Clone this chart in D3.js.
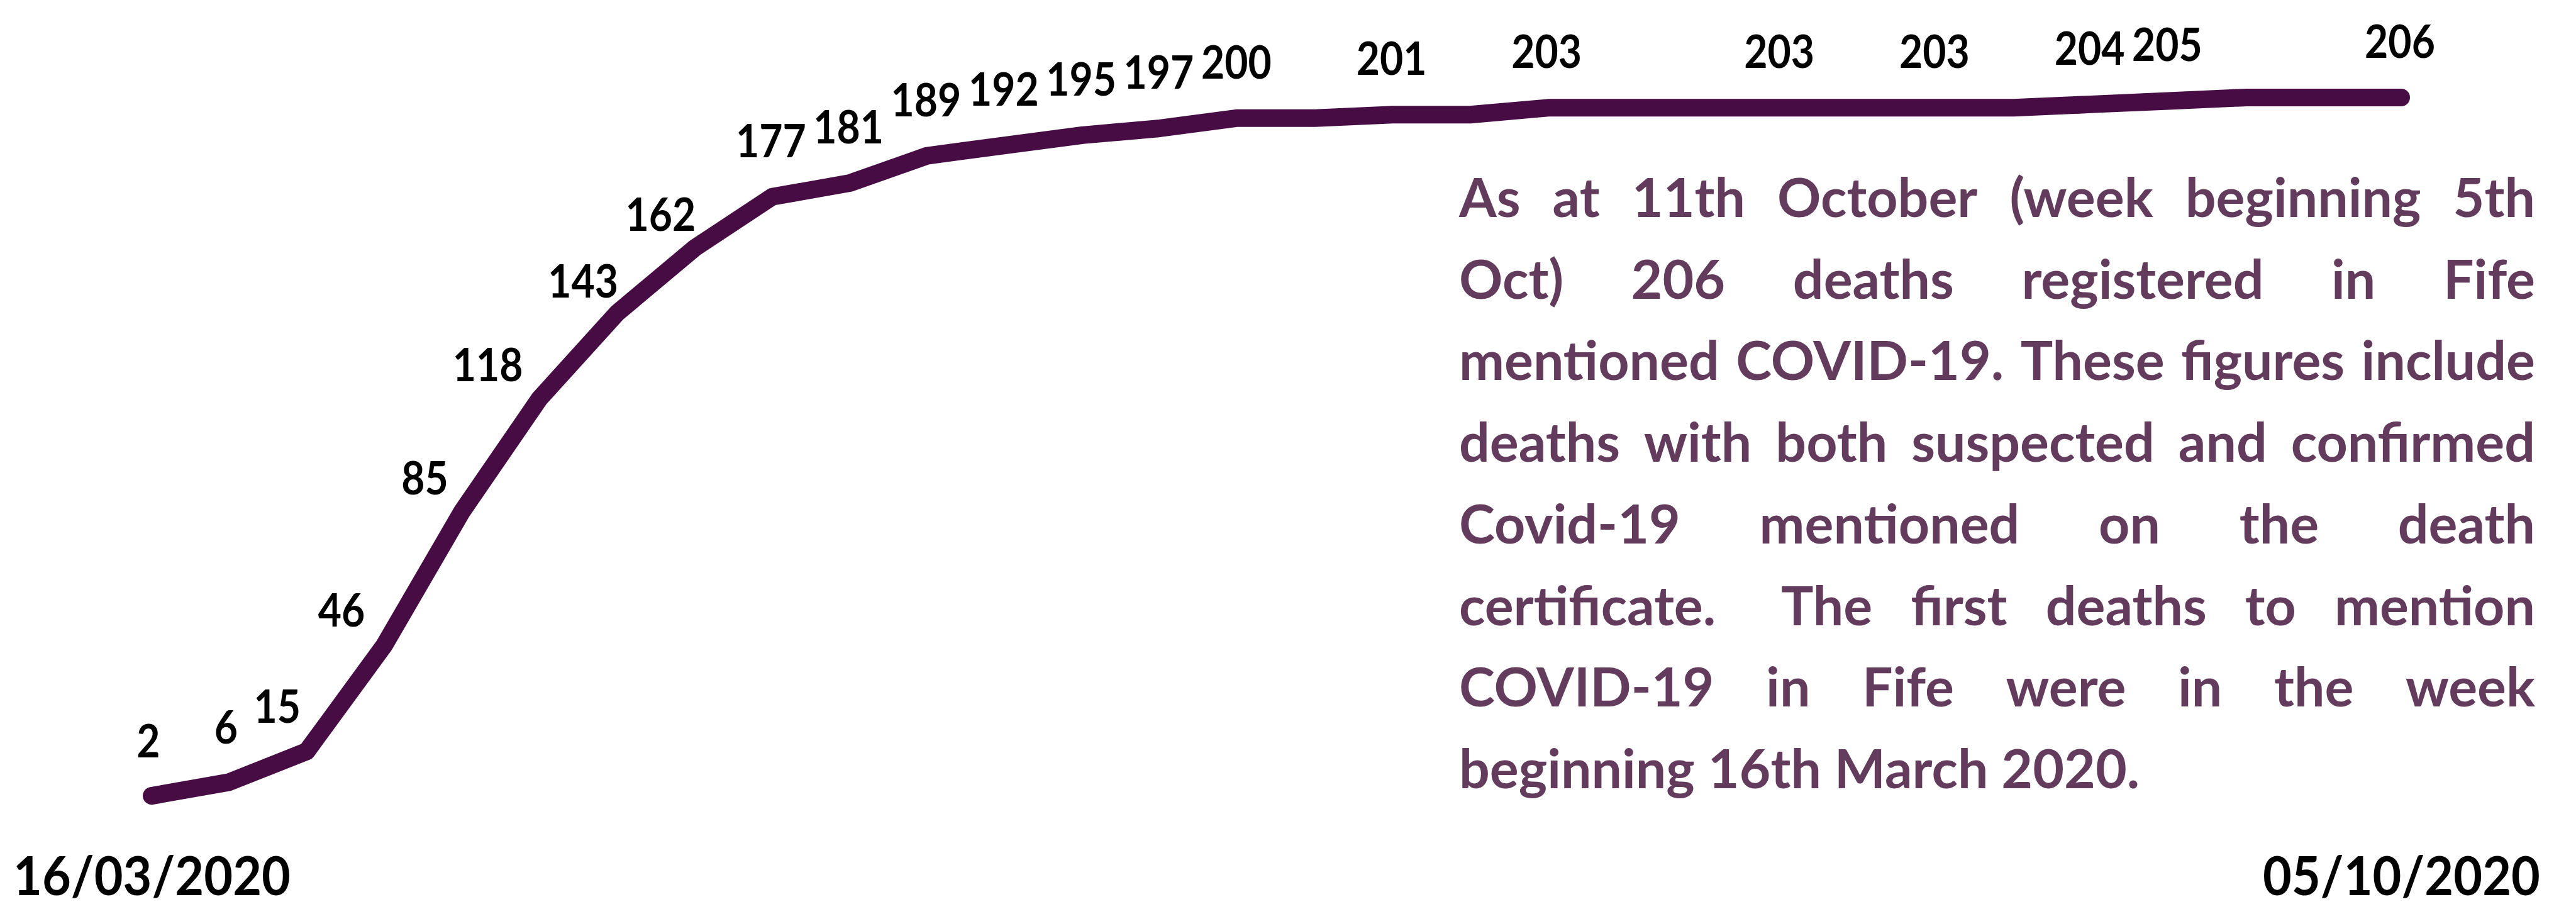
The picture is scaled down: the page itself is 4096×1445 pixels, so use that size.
<!DOCTYPE html>
<html>
<head>
<meta charset="utf-8">
<script src="https://cdn.jsdelivr.net/npm/d3@7"></script>
<style>
    body { margin: 0; background: #fff; }
    svg text { font-family: Lato, "Open Sans", sans-serif; font-weight: 700; }
</style>
</head>
<body>
<div id="chart"></div>
<script>
    // weekly registered deaths mentioning COVID-19 in Fife (cumulative)
    var weeks = ["2020-03-16", "2020-03-23", "2020-03-30", "2020-04-06", "2020-04-13",
                 "2020-04-20", "2020-04-27", "2020-05-04", "2020-05-11", "2020-05-18",
                 "2020-05-25", "2020-06-01", "2020-06-08", "2020-06-15", "2020-06-22",
                 "2020-06-29", "2020-07-06", "2020-07-13", "2020-07-20", "2020-07-27",
                 "2020-08-03", "2020-08-10", "2020-08-17", "2020-08-24", "2020-08-31",
                 "2020-09-07", "2020-09-14", "2020-09-21", "2020-09-28", "2020-10-05"];
    var deaths = [2, 6, 15, 46, 85, 118, 143, 162, 177, 181,
                  189, 192, 195, 197, 200, 200, 201, 201, 203, 203,
                  203, 203, 203, 203, 203, 204, 205, 206, 206, 206];
    // which weeks carry a value label
    var labelled = [0, 1, 2, 3, 4, 5, 6, 7, 8, 9, 10, 11, 12, 13, 14, 16, 18, 21, 23, 25, 26, 29];
    var noteLines = [
        "As at 11th October (week beginning 5th",
        "Oct) 206 deaths registered in Fife",
        "mentioned COVID-19. These figures include",
        "deaths with both suspected and confirmed",
        "Covid-19 mentioned on the death",
        "certificate.  The first deaths to mention",
        "COVID-19 in Fife were in the week",
        "beginning 16th March 2020."
    ];

    var width = 4096,
        height = 1445;

    // labels on the steep part sit to the left of the line
    var nudge = {0: [-5, 2], 1: [-5, 2], 2: [-47, 18], 3: [-68, 33], 4: [-59, 36],
                 5: [-82, 35], 6: [-54, 38], 7: [-54, 36]};

    var parseDate = d3.timeParse("%Y-%m-%d");
    var dates = weeks.map(parseDate);

    var svg = d3.select("#chart")
        .append("svg")
            .attr("width", width)
            .attr("height", height);

    var x = d3.scaleTime()
        .domain(d3.extent(dates))
        .range([241, 3818]);

    var y = d3.scaleLinear()
        .domain([0, 206])
        .range([1276, 155]);

    svg.append("path")
        .datum(deaths)
        .attr("fill", "none")
        .attr("stroke", "#470c43")
        .attr("stroke-width", 28)
        .attr("stroke-linejoin", "round")
        .attr("stroke-linecap", "round")
        .attr("d", d3.line()
            .x(function(d, i) { return x(dates[i]); })
            .y(function(d) { return y(d); })
        );

    // narrow-ish digits like the original Calibri labels
    svg.append("g")
        .selectAll("text")
        .data(labelled)
        .join("text")
            .attr("transform", function(i) {
                var lx = x(dates[i]) - 2 + (nudge[i] ? nudge[i][0] + 2 : 0),
                    ly = y(deaths[i]) - 63 + (nudge[i] ? nudge[i][1] : 0);
                return "translate(" + lx + "," + ly + ") scale(0.88,1)";
            })
            .attr("text-anchor", "middle")
            .attr("fill", "#000")
            .style("font-size", "73px")
            .text(function(i) { return deaths[i]; });

    var xAxis = svg.append("g")
        .attr("transform", "translate(0,1423)")
        .call(d3.axisBottom(x)
            .tickValues([dates[0], dates[dates.length - 1]])
            .tickFormat(d3.timeFormat("%d/%m/%Y"))
            .tickSize(0));
    xAxis.select(".domain").remove();
    xAxis.selectAll("text")
        .attr("y", 0)
        .attr("dy", 0)
        .attr("transform", "scale(0.92,1)")
        .attr("fill", "#000")
        .style("font-size", "86px");

    // justified note on the right
    var noteLeft = 2320,
        noteRight = 4031,
        noteTop = 345,
        lineGap = 129.7;

    var note = svg.append("g")
        .attr("fill", "#633b5c")
        .style("font-size", "86px");

    noteLines.forEach(function(line, li) {
        var yb = noteTop + li * lineGap;
        if (li === noteLines.length - 1) {
            note.append("text").attr("x", noteLeft).attr("y", yb).text(line);
            return;
        }
        var words = [], weight = 0;
        line.split(" ").forEach(function(tok) {
            if (tok === "") { weight += 0.7; return; }
            words.push({w: tok, gap: words.length ? weight + 1 : 0});
            weight = 0;
        });
        var total = 0, gaps = 0;
        words.forEach(function(d) {
            d.node = note.append("text").attr("y", yb).text(d.w);
            d.len = d.node.node().getComputedTextLength();
            total += d.len;
            gaps += d.gap;
        });
        var unit = (noteRight - noteLeft - total) / gaps;
        var cx = noteLeft;
        words.forEach(function(d) {
            cx += d.gap * unit;
            d.node.attr("x", cx);
            cx += d.len;
        });
    });
</script>
</body>
</html>
